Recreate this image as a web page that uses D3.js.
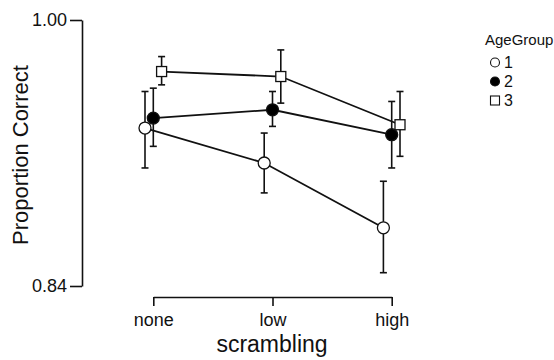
<!DOCTYPE html>
<html><head><meta charset="utf-8">
<script src="https://cdn.jsdelivr.net/npm/d3@7"></script>
<style>
body{margin:0;background:#fff;}
svg{display:block;font-family:"Liberation Sans",Arial,Helvetica,sans-serif;}
</style></head>
<body><svg id="chart" width="554" height="360"></svg>
<script>
const categories = ["none","low","high"];
const groups = ["1","2","3"];
const yTicks = [0.84, 1.00];
// means and error-bar bounds per group, ordered as categories
const mean1 = [0.935, 0.914, 0.875];
const lo1   = [0.911, 0.896, 0.848];
const hi1   = [0.957, 0.932, 0.903];
const mean2 = [0.941, 0.946, 0.931];
const lo2   = [0.924, 0.936, 0.911];
const hi2   = [0.959, 0.957, 0.951];
const mean3 = [0.969, 0.966, 0.937];
const lo3   = [0.961, 0.950, 0.918];
const hi3   = [0.978, 0.982, 0.957];

const series = [
  {g:"1", mean:mean1, lo:lo1, hi:hi1, shape:"circle", fill:"#fff"},
  {g:"2", mean:mean2, lo:lo2, hi:hi2, shape:"circle", fill:"#000"},
  {g:"3", mean:mean3, lo:lo3, hi:hi3, shape:"square", fill:"#fff"}
];

const svg = d3.select("#chart");
const x = d3.scalePoint().domain(categories).range([153.3, 391.7]);
const dodge = d3.scalePoint().domain(groups).range([-8.3, 8.3]);
const y = d3.scaleLinear().domain([0.84, 1.00]).range([286, 20]);

// Y axis
const yAxis = svg.append("g").attr("transform","translate(82,0)")
  .call(d3.axisLeft(y).tickValues(yTicks).tickFormat(d3.format(".2f")).tickSize(12).tickSizeOuter(0).tickPadding(3));
yAxis.selectAll("text").attr("font-size",18).attr("fill","#111").attr("font-family","Liberation Sans, Arial, sans-serif");
yAxis.selectAll("path,line").attr("stroke","#111").attr("stroke-width",1.6);

// X axis
const xAxis = svg.append("g").attr("transform","translate(0,297)")
  .call(d3.axisBottom(x).tickSize(9).tickSizeOuter(0).tickPadding(7));
xAxis.selectAll("text").attr("font-size",18).attr("fill","#111").attr("font-family","Liberation Sans, Arial, sans-serif");
xAxis.selectAll("path,line").attr("stroke","#111").attr("stroke-width",1.6);

// axis titles
svg.append("text").attr("x",272).attr("y",352).attr("text-anchor","middle")
  .attr("font-size",23).attr("fill","#111").text("scrambling");
svg.append("text").attr("transform","translate(28,155) rotate(-90)").attr("text-anchor","middle")
  .attr("font-size",22).attr("fill","#111").text("Proportion Correct");

const px = (s,i) => x(categories[i]) + dodge(s.g);
const line = d3.line();

// error bars
series.forEach(s => {
  const g = svg.append("g");
  categories.forEach((c,i) => {
    const cx = px(s,i);
    g.append("line").attr("x1",cx).attr("x2",cx).attr("y1",y(s.lo[i])).attr("y2",y(s.hi[i]))
      .attr("stroke","#111").attr("stroke-width",1.6);
    [s.lo[i], s.hi[i]].forEach(v => {
      g.append("line").attr("x1",cx-3.5).attr("x2",cx+3.5).attr("y1",y(v)).attr("y2",y(v))
        .attr("stroke","#111").attr("stroke-width",1.6);
    });
  });
});
// lines
series.forEach(s => {
  svg.append("path").attr("d", line(categories.map((c,i)=>[px(s,i), y(s.mean[i])])))
    .attr("fill","none").attr("stroke","#111").attr("stroke-width",1.8);
});
// points
series.forEach(s => {
  categories.forEach((c,i) => {
    const cx = px(s,i), cy = y(s.mean[i]);
    if (s.shape === "circle") {
      svg.append("circle").attr("cx",cx).attr("cy",cy).attr("r",6)
        .attr("fill",s.fill).attr("stroke","#111").attr("stroke-width",1.3);
    } else {
      svg.append("rect").attr("x",cx-5).attr("y",cy-5).attr("width",10).attr("height",10)
        .attr("fill",s.fill).attr("stroke","#111").attr("stroke-width",1.3);
    }
  });
});

// legend
const leg = svg.append("g");
leg.append("text").attr("x",485).attr("y",45).attr("font-size",15).attr("fill","#111").text("AgeGroup");
series.forEach((s,i) => {
  const cy = 62.5 + i*19;
  if (s.shape === "circle") {
    leg.append("circle").attr("cx",495).attr("cy",cy).attr("r",4.5)
      .attr("fill",s.fill).attr("stroke","#111").attr("stroke-width",1.1);
  } else {
    leg.append("rect").attr("x",490.5).attr("y",cy-4.5).attr("width",9).attr("height",9)
      .attr("fill",s.fill).attr("stroke","#111").attr("stroke-width",1.1);
  }
  leg.append("text").attr("x",504).attr("y",cy+5.5).attr("font-size",16).attr("fill","#111").text(s.g);
});
</script>
</body></html>
